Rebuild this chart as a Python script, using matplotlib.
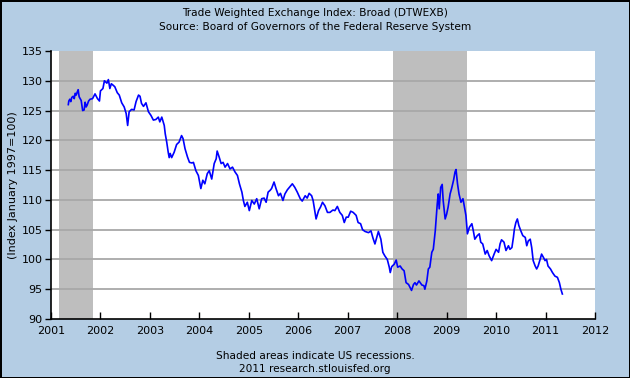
import numpy as np
import matplotlib
matplotlib.use("Agg")
import matplotlib.pyplot as plt

# Trade Weighted Exchange Index: Broad (DTWEXB)
lata = [
    2001.35, 2001.36, 2001.38, 2001.40, 2001.42, 2001.45, 2001.47, 2001.49, 2001.51, 2001.53,
    2001.55, 2001.56, 2001.57, 2001.61, 2001.64, 2001.67, 2001.69, 2001.71, 2001.73, 2001.76,
    2001.79, 2001.84, 2001.89, 2001.94, 2001.98, 2002.00, 2002.05, 2002.08, 2002.13, 2002.16,
    2002.19, 2002.22, 2002.25, 2002.29, 2002.34, 2002.38, 2002.43, 2002.48, 2002.52, 2002.55,
    2002.58, 2002.63, 2002.68, 2002.72, 2002.77, 2002.80, 2002.83, 2002.87, 2002.92, 2002.97,
    2003.02, 2003.07, 2003.12, 2003.17, 2003.20, 2003.24, 2003.29, 2003.31, 2003.34, 2003.37,
    2003.39, 2003.41, 2003.44, 2003.49, 2003.54, 2003.59, 2003.64, 2003.67, 2003.71, 2003.76,
    2003.80, 2003.85, 2003.88, 2003.93, 2003.98, 2004.03, 2004.07, 2004.11, 2004.16, 2004.20,
    2004.25, 2004.30, 2004.34, 2004.36, 2004.40, 2004.44, 2004.48, 2004.52, 2004.57, 2004.62,
    2004.67, 2004.72, 2004.77, 2004.81, 2004.86, 2004.89, 2004.92, 2004.97, 2005.01, 2005.06,
    2005.11, 2005.16, 2005.21, 2005.26, 2005.31, 2005.35, 2005.39, 2005.43, 2005.46, 2005.51,
    2005.55, 2005.60, 2005.64, 2005.69, 2005.73, 2005.78, 2005.83, 2005.88, 2005.93, 2005.98,
    2006.04, 2006.08, 2006.14, 2006.18, 2006.22, 2006.27, 2006.30, 2006.34, 2006.36, 2006.41,
    2006.45, 2006.49, 2006.54, 2006.59, 2006.64, 2006.70, 2006.74, 2006.79, 2006.84, 2006.89,
    2006.93, 2006.97, 2007.01, 2007.06, 2007.11, 2007.17, 2007.21, 2007.26, 2007.30, 2007.35,
    2007.42, 2007.47, 2007.51, 2007.55, 2007.62, 2007.67, 2007.71, 2007.75, 2007.80, 2007.84,
    2007.86, 2007.89, 2007.94, 2007.98, 2008.01, 2008.06, 2008.10, 2008.14, 2008.18, 2008.23,
    2008.26, 2008.29, 2008.33, 2008.36, 2008.39, 2008.44, 2008.50, 2008.54, 2008.56, 2008.60,
    2008.63, 2008.66, 2008.70, 2008.73, 2008.77, 2008.79, 2008.81, 2008.83, 2008.85, 2008.88,
    2008.91, 2008.93, 2008.97, 2009.00, 2009.03, 2009.07, 2009.10, 2009.14, 2009.17, 2009.19,
    2009.22, 2009.25, 2009.29, 2009.33, 2009.36, 2009.39, 2009.42, 2009.46, 2009.51, 2009.54,
    2009.57, 2009.62, 2009.66, 2009.69, 2009.73, 2009.78, 2009.82, 2009.86, 2009.91, 2009.96,
    2010.00, 2010.05, 2010.08, 2010.11, 2010.16, 2010.20, 2010.25, 2010.28, 2010.32, 2010.35,
    2010.37, 2010.40, 2010.43, 2010.46, 2010.50, 2010.54, 2010.59, 2010.62, 2010.65, 2010.69,
    2010.72, 2010.75, 2010.79, 2010.82, 2010.85, 2010.89, 2010.92, 2010.96, 2010.99, 2011.02,
    2011.05, 2011.10, 2011.14, 2011.19, 2011.24, 2011.28, 2011.31, 2011.34,
]
indeks = [
    126.0, 126.6, 126.9, 126.5, 127.2, 127.4, 127.0, 127.9, 127.6, 128.1,
    128.5, 127.8, 127.3, 126.7, 125.0, 125.1, 126.4, 125.6, 125.9, 126.6,
    126.9, 127.0, 127.8, 127.0, 126.6, 128.3, 128.7, 130.0, 129.6, 130.2,
    128.7, 129.5, 129.3, 129.0, 128.0, 127.6, 126.3, 125.6, 124.5, 122.5,
    124.8, 125.2, 125.1, 126.5, 127.6, 127.4, 126.2, 125.7, 126.3, 124.8,
    124.2, 123.4, 123.5, 123.9, 123.1, 123.9, 122.5, 121.1, 119.7, 118.0,
    117.1, 117.8, 117.1, 118.0, 119.3, 119.7, 120.8, 120.3, 118.6, 117.2,
    116.3, 116.2, 116.3, 114.9, 114.1, 111.9, 113.3, 112.7, 114.4, 114.9,
    113.5, 116.1, 116.9, 118.2, 117.2, 116.1, 116.3, 115.5, 116.1, 115.2,
    115.5, 114.7, 114.1, 112.7, 111.3, 109.9, 108.9, 109.6, 108.2, 109.9,
    109.3, 110.2, 108.5, 110.2, 110.3, 109.6, 111.3, 111.6, 111.9, 113.0,
    111.9, 110.7, 111.1, 109.9, 111.0, 111.7, 112.2, 112.7, 112.1, 111.3,
    110.2, 109.8, 110.7, 110.3, 111.1, 110.7, 109.9, 107.9, 106.8, 108.2,
    108.8, 109.6, 109.0, 107.9, 107.9, 108.3, 108.2, 108.9, 107.9, 107.4,
    106.2, 107.1, 107.1, 108.1, 107.9, 107.4, 106.2, 106.0, 105.0, 104.7,
    104.5, 104.8, 103.6, 102.6, 104.7, 103.4, 101.2, 100.6, 100.0, 98.7,
    97.8, 98.8, 99.2, 99.9, 98.7, 98.9, 98.4, 98.1, 96.1, 95.8,
    95.3, 94.8, 95.8, 96.1, 95.7, 96.4, 95.7, 95.6, 95.0, 96.4,
    98.4, 98.7, 101.2, 101.7, 104.8, 107.1, 109.3, 111.0, 108.5, 112.1,
    112.6, 109.9, 106.8, 107.6, 108.8, 111.0, 111.9, 113.3, 114.7, 115.1,
    112.7, 111.0, 109.6, 110.2, 108.8, 107.4, 104.3, 105.4, 106.0, 104.8,
    103.4, 104.0, 104.3, 102.9, 102.6, 100.9, 101.5, 100.6, 99.8, 100.9,
    101.7, 101.2, 102.6, 103.3, 102.9, 101.5, 102.3, 101.7, 102.0, 103.7,
    105.1, 106.2, 106.8, 105.7, 104.8, 104.0, 103.7, 102.3, 103.1, 103.4,
    102.0, 99.8, 98.9, 98.4, 98.9, 100.0, 100.9, 100.3, 99.8, 100.0,
    98.9, 98.4, 97.8, 97.2, 97.0, 96.1, 95.0, 94.2,
]

# recesje (NBER)
recesje = [(2001.17, 2001.84), (2007.92, 2009.42)]

lata_ticks = list(range(2001, 2013))
y_ticks = [90, 95, 100, 105, 110, 115, 120, 125, 130, 135]

tlo = "#B4CDE4"

fig = plt.figure(figsize=(6.3, 3.78), dpi=100, facecolor=tlo)
fig.patch.set_edgecolor("black")
fig.patch.set_linewidth(2)
ax = fig.add_axes([51 / 630, 1 - 319 / 378, 544 / 630, 268 / 378])
ax.set_facecolor("white")

for start, koniec in recesje:
    ax.axvspan(start, koniec, color="#BEBEBE", lw=0, zorder=1)

for y in y_ticks[1:-1]:
    ax.axhline(y, color="#A8A8A8", lw=1.3, zorder=2)

ax.plot(lata, indeks, color="#0000FF", lw=1.2, zorder=3)

ax.set_xlim(2001, 2012)
ax.set_ylim(90, 135)
ax.set_xticks(lata_ticks)
ax.set_yticks(y_ticks)
ax.tick_params(axis="x", direction="in", length=5, width=1, labelsize=8, pad=5)
ax.tick_params(axis="y", direction="out", length=4, width=1, labelsize=8, pad=2)
for s in ["top", "right"]:
    ax.spines[s].set_visible(False)
for s in ["left", "bottom"]:
    ax.spines[s].set_linewidth(1.2)

fig.text(13 / 630, 1 - 185 / 378, "(Index January 1997=100)", rotation=90,
         ha="center", va="center", fontsize=8)
fig.text(0.5, 1 - 13 / 378, "Trade Weighted Exchange Index: Broad (DTWEXB)",
         ha="center", va="center", fontsize=7.6)
fig.text(0.5, 1 - 27 / 378, "Source: Board of Governors of the Federal Reserve System",
         ha="center", va="center", fontsize=7.6)
fig.text(0.5, 1 - 356 / 378, "Shaded areas indicate US recessions.",
         ha="center", va="center", fontsize=7.6)
fig.text(0.5, 1 - 369 / 378, "2011 research.stlouisfed.org",
         ha="center", va="center", fontsize=7.6)

fig.savefig("out.png", dpi=100, facecolor=tlo, edgecolor="black")
